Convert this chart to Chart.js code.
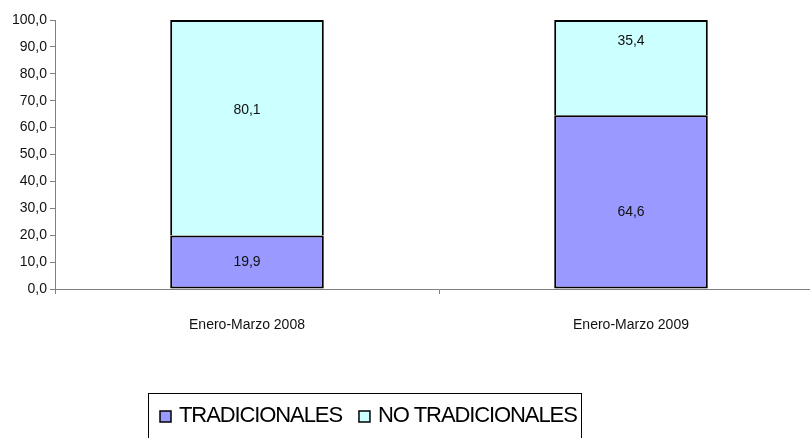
<!DOCTYPE html>
<html>
<head>
<meta charset="utf-8">
<script src="https://cdn.jsdelivr.net/npm/chart.js@4.4.1/dist/chart.umd.min.js"></script>
<style>
  html, body { margin: 0; padding: 0; background: #fff; overflow: hidden; }
  #wrap { width: 823px; height: 450px; position: relative; }
</style>
</head>
<body>
<div id="wrap"><canvas id="chart"></canvas></div>
<script>
const categories = ['Enero-Marzo 2008', 'Enero-Marzo 2009'];
const tradicionales = [19.9, 64.6];
const noTradicionales = [80.1, 35.4];
const seriesNames = ['TRADICIONALES', 'NO TRADICIONALES'];

const fontFamily = "'Liberation Sans', Arial, sans-serif";
Chart.defaults.font.family = fontFamily;
Chart.defaults.color = '#111';

function fmt(v) {
  return v.toFixed(1).replace('.', ',');
}

// Excel put some labels off-centre; fraction of segment height from the top
const labelPos = [[0.5, 0.42], [0.56, 0.22]];

const valueLabels = {
  id: 'valueLabels',
  afterDatasetsDraw(chart) {
    const ctx = chart.ctx;
    ctx.save();
    ctx.font = '14px ' + fontFamily;
    ctx.fillStyle = '#111';
    ctx.textAlign = 'center';
    ctx.textBaseline = 'middle';
    chart.data.datasets.forEach(function (ds, di) {
      chart.getDatasetMeta(di).data.forEach(function (bar, i) {
        const top = Math.min(bar.y, bar.base);
        const h = Math.abs(bar.base - bar.y);
        ctx.fillText(fmt(ds.data[i]), bar.x, top + h * labelPos[i][di]);
      });
    });
    ctx.restore();
  }
};

// boxed legend like the Excel original
const boxLegend = {
  id: 'boxLegend',
  afterDraw(chart) {
    const ctx = chart.ctx;
    const left = 148, top = 393, right = 581, cy = 416;
    ctx.save();
    ctx.strokeStyle = '#000';
    ctx.lineWidth = 1;
    ctx.strokeRect(left + 0.5, top + 0.5, right - left, 60);
    ctx.font = '22px ' + fontFamily;
    ctx.letterSpacing = '-1.1px';
    ctx.textBaseline = 'middle';
    let x = left + 12;
    chart.data.datasets.forEach(function (ds) {
      ctx.fillStyle = ds.backgroundColor;
      ctx.fillRect(x, cy - 5, 11, 11);
      ctx.lineWidth = 1.5;
      ctx.strokeStyle = '#000';
      ctx.strokeRect(x, cy - 5, 11, 11);
      ctx.fillStyle = '#000';
      ctx.fillText(ds.label, x + 19, cy);
      x += 19 + ctx.measureText(ds.label).width + 17;
    });
    ctx.restore();
  }
};

new Chart(document.getElementById('chart'), {
  type: 'bar',
  data: {
    labels: categories,
    datasets: [{
      label: seriesNames[0],
      data: tradicionales,
      backgroundColor: '#9999FF',
      borderColor: '#000',
      borderWidth: 2,
      borderSkipped: false,
      barPercentage: 0.4,
      categoryPercentage: 1
    }, {
      label: seriesNames[1],
      data: noTradicionales,
      backgroundColor: '#CCFFFF',
      borderColor: '#000',
      borderWidth: 2,
      borderSkipped: 'start',
      barPercentage: 0.4,
      categoryPercentage: 1
    }]
  },
  options: {
    responsive: true,
    maintainAspectRatio: false,
    animation: false,
    layout: { padding: { top: 20, right: 0, bottom: 0, left: 0 } },
    plugins: {
      legend: { display: false },
      tooltip: { enabled: false }
    },
    scales: {
      x: {
        stacked: true,
        afterFit: function (scale) { scale.height = 161; },
        border: { color: '#808080', width: 1 },
        grid: { offset: true, drawOnChartArea: false, drawTicks: true, tickLength: 5, color: '#808080' },
        ticks: { font: { size: 14 }, padding: 23, maxRotation: 0 }
      },
      y: {
        stacked: true,
        min: 0,
        max: 100,
        afterFit: function (scale) { scale.width = 55; },
        border: { color: '#808080', width: 1 },
        grid: { drawOnChartArea: false, drawTicks: true, tickLength: 5, color: '#808080' },
        ticks: { stepSize: 10, font: { size: 14 }, padding: 3, callback: function (v) { return fmt(v); } }
      }
    }
  },
  plugins: [valueLabels, boxLegend]
});
</script>
</body>
</html>
